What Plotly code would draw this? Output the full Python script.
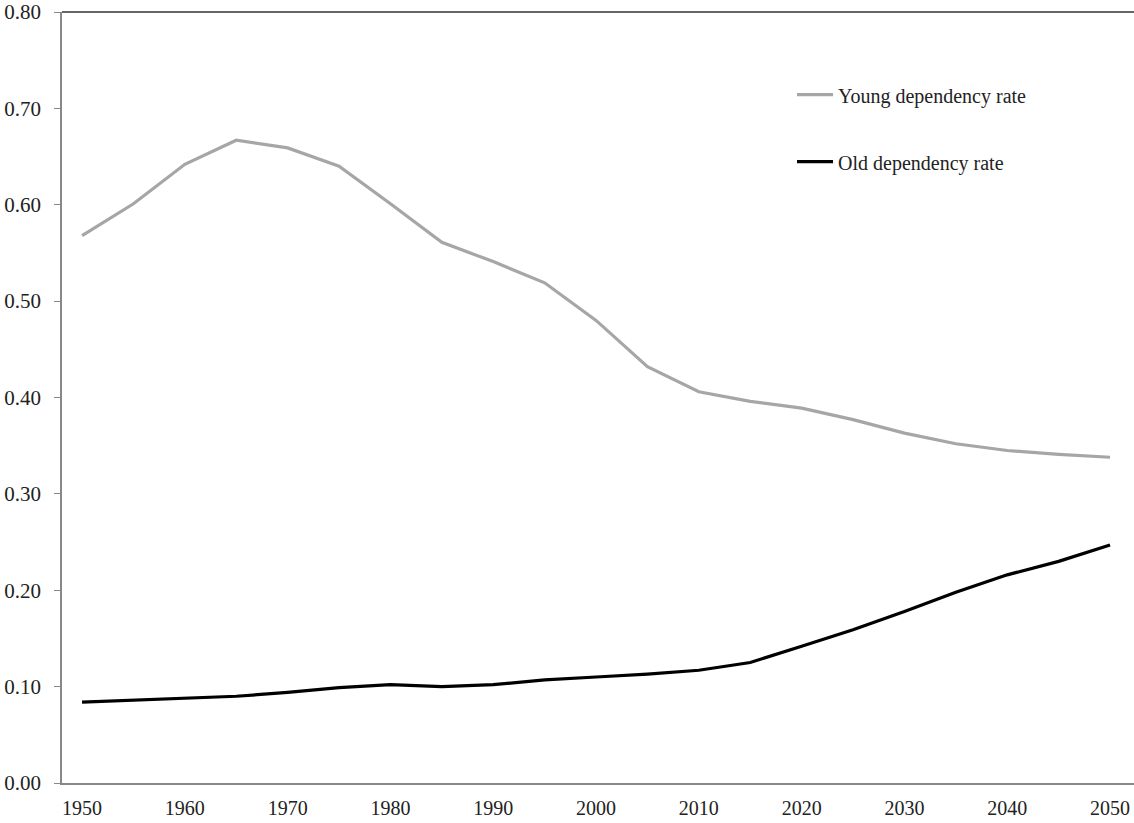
import plotly.graph_objects as go

years = [1950, 1955, 1960, 1965, 1970, 1975, 1980, 1985, 1990, 1995, 2000,
         2005, 2010, 2015, 2020, 2025, 2030, 2035, 2040, 2045, 2050]
young = [0.568, 0.601, 0.642, 0.667, 0.659, 0.640, 0.601, 0.561, 0.541, 0.519, 0.480,
         0.432, 0.406, 0.396, 0.389, 0.377, 0.363, 0.352, 0.345, 0.341, 0.338]
old = [0.084, 0.086, 0.088, 0.090, 0.094, 0.099, 0.102, 0.100, 0.102, 0.107, 0.110,
       0.113, 0.117, 0.125, 0.142, 0.159, 0.178, 0.198, 0.216, 0.230, 0.247]
y_ticks = [0.0, 0.1, 0.2, 0.3, 0.4, 0.5, 0.6, 0.7, 0.8]
x_ticks = [1950, 1960, 1970, 1980, 1990, 2000, 2010, 2020, 2030, 2040, 2050]

FONT = "Liberation Serif"

fig = go.Figure()
fig.add_trace(go.Scatter(x=years, y=young, mode="lines", name="Young dependency rate",
                         line=dict(color="#a6a6a6", width=3.2), legendgroup="a"))
fig.add_trace(go.Scatter(x=years, y=old, mode="lines", name="Old dependency rate",
                         line=dict(color="#000000", width=3.2), legendgroup="b"))

fig.update_layout(
    width=1134, height=823,
    margin=dict(l=62, r=0, t=12, b=40),
    paper_bgcolor="white", plot_bgcolor="white",
    font=dict(family=FONT, size=20, color="#222"),
    showlegend=True,
    legend=dict(x=0.681, y=0.918, xanchor="left", yanchor="top",
                traceorder="grouped", tracegroupgap=38,
                itemwidth=36, bgcolor="rgba(0,0,0,0)",
                font=dict(family=FONT, size=20, color="#222")),
    xaxis=dict(range=[1948.05, 2052.33], tickvals=x_ticks, showgrid=False,
               zeroline=False, showline=True, linecolor="#888", linewidth=1.5,
               ticks="", ticklabeloverflow="allow", ticklabelstandoff=6,
               tickfont=dict(family=FONT, size=20, color="#222")),
    yaxis=dict(range=[0, 0.8], tickvals=y_ticks, tickformat=".2f", showgrid=False,
               zeroline=False, showline=True, linecolor="#888", linewidth=1.5,
               ticks="outside", ticklen=6, tickcolor="#888", tickwidth=1,
               ticklabeloverflow="allow", ticklabelstandoff=9,
               tickfont=dict(family=FONT, size=21, color="#222")),
    shapes=[dict(type="line", xref="paper", yref="paper", x0=0, x1=1, y0=1, y1=1,
                 line=dict(color="#333", width=1.5))],
)

fig.write_html("out.html", config={"displayModeBar": False},
               post_script="document.body.style.margin='0';document.body.style.overflow='hidden';")
